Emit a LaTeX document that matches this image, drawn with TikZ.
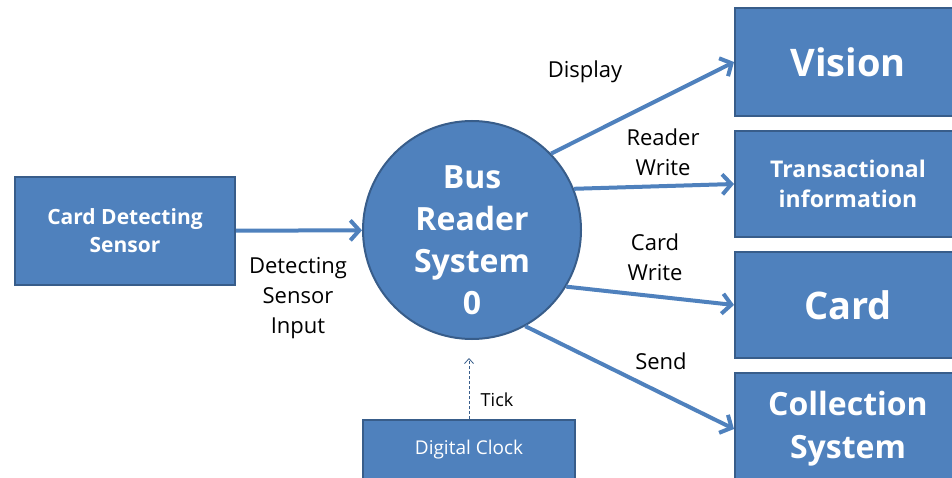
\documentclass[tikz,border=0pt]{standalone}
\usepackage{fontspec}
\setmainfont{Open Sans}
\usetikzlibrary{arrows.meta}
\definecolor{boxblue}{HTML}{4F81BD}
\definecolor{boxedge}{HTML}{385D8A}
\begin{document}
\begin{tikzpicture}[x=1pt,y=-1pt,
    box/.style={rectangle,draw=boxedge,line width=2pt,fill=boxblue,text=white,align=center,inner sep=0pt},
    hub/.style={circle,draw=boxedge,line width=2pt,fill=boxblue,minimum size=218pt,inner sep=0pt},
    hubtext/.style={text=white,align=center,font=\fontsize{32}{42}\selectfont\bfseries},
    flow/.style={color=boxblue,line width=4pt,-{Straight Barb[length=9pt,width=20pt]}},
    tickflow/.style={color=boxedge,line width=0.8pt,dash pattern=on 3pt off 2pt,-{Straight Barb[length=5pt,width=9pt]}},
    lbl/.style={align=center,font=\fontsize{22}{30}\selectfont}]

        \useasboundingbox (0,0) rectangle (952,478);
        \clip (0,0) rectangle (952,478);

        % Define vertices
        \node[box,minimum width=220pt,minimum height=107pt,font=\fontsize{21}{28}\selectfont\bfseries] (sensor) at (125,231) {Card Detecting\\Sensor};
        \node[hub] (bus) at (472,230) {};
        \node[hubtext] (busname) at (472,240) {Bus\\Reader\\System\\0};
        \node[box,minimum width=226pt,minimum height=108pt,font=\fontsize{38}{44}\selectfont\bfseries] (vision) at (848,62) {Vision};
        \node[box,minimum width=226pt,minimum height=106pt,font=\fontsize{23}{30}\selectfont\bfseries] (trans) at (848,184) {Transactional\\information};
        \node[box,minimum width=226pt,minimum height=106pt,font=\fontsize{38}{44}\selectfont\bfseries] (card) at (848,305) {Card};
        \node[box,minimum width=226pt,minimum height=112pt,font=\fontsize{32}{43}\selectfont\bfseries] (coll) at (848,429) {Collection\\System};
        \node[box,minimum width=212pt,minimum height=60pt,font=\fontsize{19}{24}\selectfont] (clock) at (469,450) {Digital Clock};

        % Edge labels
        \node[lbl] (sinput) at (298,298) {Detecting\\Sensor\\Input};
        \node[lbl] (display) at (585,72) {Display};
        \node[lbl] (rwrite) at (663,152) {Reader\\Write};
        \node[lbl] (cwrite) at (655,257) {Card\\Write};
        \node[lbl] (send) at (661,361) {Send};
        \node[font=\fontsize{18}{22}\selectfont] (tick) at (497,400) {Tick};

        % Draw edges
        \path[flow]
            (sensor) edge (bus)
            (bus.44) edge (vision.west)
            (bus.22) edge (trans.west)
            (bus.-31) edge (card.west)
            (bus.-61) edge (coll.west);
        \draw[tickflow,shorten >=18pt] (clock.north) -- (clock.north |- bus.south);

\end{tikzpicture}
\end{document}
